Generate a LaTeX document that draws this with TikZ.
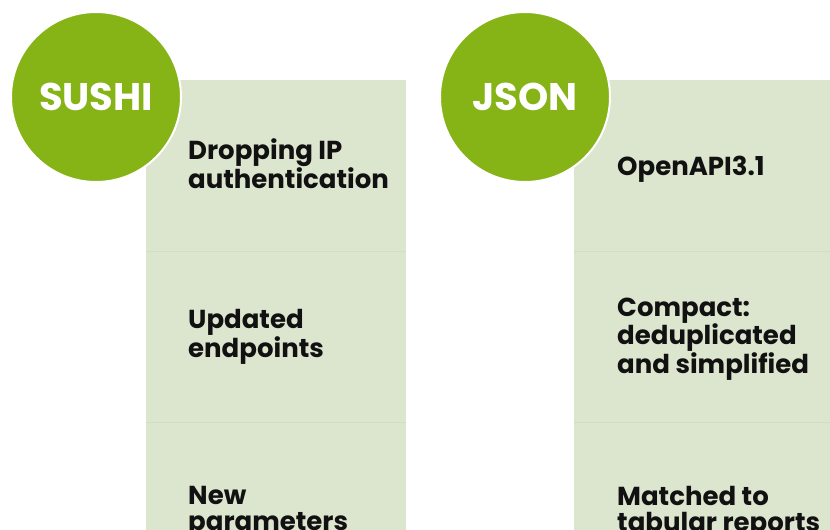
\documentclass[tikz,border=0pt]{standalone}
\usepackage{fontspec}
\setmainfont{Poppins}
\definecolor{panel}{HTML}{DCE5CE}
\definecolor{divider}{HTML}{D3DCC4}
\definecolor{leaf}{HTML}{86B316}
\definecolor{ink}{HTML}{111111}
\begin{document}
\begin{tikzpicture}[x=1pt,y=-1pt,
  panelbox/.style={fill=panel,draw=none},
  badge/.style={circle,fill=leaf,draw=white,line width=2pt,minimum size=170pt,inner sep=0pt,
    text=white,font=\bfseries\fontsize{38.5}{42}\selectfont},
  item/.style={anchor=west,align=left,text=ink,inner sep=0pt,
    font=\bfseries\fontsize{26}{26}\selectfont},
  rowline/.style={draw=divider,line width=1pt}]
\useasboundingbox (0,0) rectangle (830,530);
% panels
\fill[panelbox] (146,80) rectangle (406,530);
\fill[panelbox] (574,80) rectangle (830,530);
\coordinate (l1a) at (146,251); \coordinate (l1b) at (406,251);
\coordinate (l2a) at (146,422); \coordinate (l2b) at (406,422);
\coordinate (r1a) at (574,251); \coordinate (r1b) at (830,251);
\coordinate (r2a) at (574,422); \coordinate (r2b) at (830,422);
\draw[rowline] (l1a) -- (l1b);
\draw[rowline] (l2a) -- (l2b);
\draw[rowline] (r1a) -- (r1b);
\draw[rowline] (r2a) -- (r2b);
% circles
\node[badge] (sushi) at (96,97) {SUSHI};
\node[badge] (json) at (525,97) {JSON};
% items
\node[item] (s1) at (188,164) {Dropping IP\\authentication};
\node[item] (s2) at (188,337) {Updated\\endpoints};
\node[item] (s3) at (188,512) {New\\parameters};
\node[item] (j1) at (617,169) {OpenAPI3.1};
\node[item] (j2) at (617,339) {Compact:\\deduplicated\\and simplified};
\node[item] (j3) at (617,512) {Matched to\\tabular reports};
\end{tikzpicture}
\end{document}
